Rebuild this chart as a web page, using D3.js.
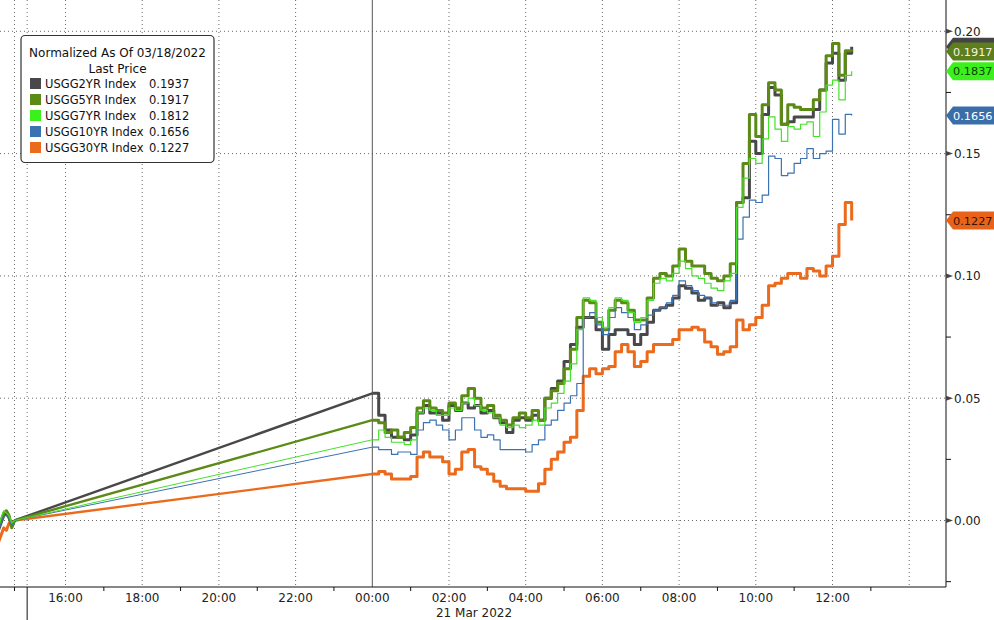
<!DOCTYPE html>
<html><head><meta charset="utf-8">
<script src="https://cdn.jsdelivr.net/npm/d3@7"></script>
<style>body{margin:0;background:#fff}svg{display:block}text{font-family:"DejaVu Sans",sans-serif}</style>
</head><body><svg id="c" width="994" height="620"></svg>
<script>
// ---------------- data ----------------
const seriesNames = ["USGG2YR Index","USGG5YR Index","USGG7YR Index","USGG10YR Index","USGG30YR Index"];
const legendValues = ["0.1937","0.1917","0.1812","0.1656","0.1227"];
const tagValues = ["0.1937","0.1917","0.1837","0.1656","0.1227"];
const seriesColors = ["#48484a","#5b8a16","#44e229","#3a72b2","#ec6a1c"];
const legendColors = ["#48484a","#5b8a16","#3cf01e","#3a72b2","#ec6a1c"];
const tagColors = ["#444446","#5c7e1c","#3cf01e","#3a6ea8","#e8621a"];
const tagTextColors = ["#ffffff","#f4f4e0","#0f3d05","#ffffff","#3a1200"];

// hours relative to Monday 00:00 (Friday session before the gap)
const fridayHours = [-9.75,-9.68,-9.61,-9.54,-9.47,-9.40,-9.33];
// minutes after Monday 00:00
const mondayMinutes = [0,10,20,30,40,50,60,70,80,90,100,110,120,130,140,150,160,170,180,190,
 200,210,220,230,240,250,260,270,280,290,300,310,320,330,340,350,360,370,380,390,
 400,410,420,430,440,450,460,470,480,490,500,510,520,530,540,550,560,570,580,590,
 600,610,620,630,640,650,660,670,680,690,700,710,720,730,740,750];

const usgg2Fri = [-0.004,-0.001,0.002,0.003,0.001,-0.002,0];
const usgg5Fri = [-0.003,0.000,0.003,0.004,0.002,-0.003,0];
const usgg7Fri = [-0.003,0.001,0.004,0.003,0.002,-0.001,0];
const usgg10Fri = [-0.004,-0.001,0.002,0.002,0.001,-0.002,0];
const usgg30Fri = [-0.009,-0.006,-0.003,-0.004,-0.001,-0.002,0];

const usgg2Mon = [0.052,0.043,0.037,0.034,0.034,0.033,0.035,0.044,0.047,0.044,
 0.044,0.041,0.047,0.045,0.048,0.046,0.047,0.044,0.045,0.042,
 0.040,0.036,0.041,0.042,0.041,0.043,0.041,0.050,0.054,0.057,
 0.065,0.072,0.079,0.083,0.083,0.078,0.070,0.076,0.078,0.078,
 0.076,0.072,0.076,0.081,0.086,0.087,0.088,0.091,0.096,0.095,
 0.093,0.090,0.091,0.088,0.089,0.087,0.089,0.130,0.132,0.155,
 0.150,0.166,0.177,0.174,0.162,0.163,0.165,0.165,0.165,0.168,
 0.176,0.187,0.191,0.180,0.191,0.1937];
const usgg5Mon = [0.041,0.040,0.036,0.037,0.034,0.036,0.038,0.046,0.049,0.046,
 0.045,0.044,0.048,0.046,0.051,0.054,0.050,0.046,0.047,0.043,
 0.041,0.039,0.042,0.044,0.042,0.045,0.041,0.050,0.053,0.056,
 0.062,0.070,0.083,0.090,0.089,0.081,0.078,0.086,0.090,0.089,
 0.086,0.082,0.082,0.091,0.099,0.101,0.100,0.104,0.111,0.106,
 0.104,0.104,0.101,0.099,0.098,0.100,0.105,0.130,0.146,0.166,
 0.157,0.170,0.179,0.176,0.162,0.170,0.169,0.168,0.168,0.172,
 0.176,0.190,0.195,0.182,0.192,0.1917];
const usgg7Mon = [0.033,0.037,0.034,0.032,0.032,0.031,0.033,0.044,0.046,0.045,
 0.043,0.043,0.046,0.045,0.048,0.050,0.047,0.045,0.044,0.042,
 0.039,0.038,0.039,0.038,0.039,0.041,0.039,0.046,0.048,0.052,
 0.057,0.064,0.078,0.091,0.090,0.083,0.079,0.087,0.091,0.090,
 0.085,0.081,0.083,0.090,0.097,0.099,0.098,0.101,0.106,0.103,
 0.100,0.099,0.097,0.095,0.094,0.098,0.101,0.128,0.140,0.148,
 0.146,0.156,0.165,0.160,0.155,0.161,0.160,0.162,0.163,0.157,
 0.167,0.178,0.180,0.172,0.182,0.1837];
const usgg10Mon = [0.030,0.029,0.029,0.027,0.028,0.028,0.027,0.037,0.040,0.041,
 0.039,0.037,0.033,0.037,0.042,0.042,0.037,0.034,0.035,0.033,
 0.029,0.029,0.029,0.029,0.028,0.031,0.033,0.039,0.041,0.045,
 0.048,0.051,0.056,0.083,0.085,0.080,0.076,0.083,0.087,0.085,
 0.083,0.078,0.080,0.084,0.086,0.087,0.089,0.092,0.098,0.096,
 0.094,0.092,0.091,0.089,0.088,0.088,0.090,0.115,0.124,0.131,
 0.130,0.133,0.149,0.148,0.141,0.142,0.146,0.148,0.152,0.148,
 0.150,0.151,0.164,0.158,0.166,0.1656];
const usgg30Mon = [0.019,0.020,0.019,0.017,0.017,0.017,0.018,0.026,0.028,0.026,
 0.026,0.024,0.019,0.021,0.028,0.029,0.022,0.021,0.019,0.016,
 0.014,0.013,0.013,0.013,0.012,0.012,0.015,0.021,0.025,0.028,
 0.032,0.034,0.045,0.059,0.062,0.060,0.062,0.063,0.069,0.072,
 0.069,0.063,0.065,0.069,0.072,0.072,0.072,0.074,0.078,0.078,
 0.079,0.078,0.073,0.071,0.068,0.069,0.071,0.082,0.078,0.080,
 0.083,0.088,0.096,0.097,0.099,0.101,0.101,0.099,0.103,0.102,
 0.100,0.104,0.108,0.121,0.130,0.1227];

const yMajorTicks = [0,0.05,0.10,0.15,0.20];
const yMinorTicks = [-0.025,0.025,0.075,0.125,0.175];
const xGridHours = [-8,-6,-4,-2,2,4,6,8,10,12,14];
const xLabelHours = [-8,-6,-4,-2,0,2,4,6,8,10,12];
const xLabels = ["16:00","18:00","20:00","22:00","00:00","02:00","04:00","06:00","08:00","10:00","12:00"];
const xMinorHours = [-9.33,-7,-5,-3,-1,1,3,5,7,9,11,13];
const dayStartHour = -9;      // long separator tick
const dateLabel = "21 Mar 2022";
const legendTitle = ["Normalized As Of 03/18/2022","Last Price"];

const friArr = [usgg2Fri,usgg5Fri,usgg7Fri,usgg10Fri,usgg30Fri];
const monArr = [usgg2Mon,usgg5Mon,usgg7Mon,usgg10Mon,usgg30Mon];

// ---------------- chart ----------------
const svg = d3.select("#c");
const W = 994, H = 620, plotR = 946, plotB = 587;
const x = d3.scaleLinear().domain([0,12]).range([372.3,832.5]);
const y = d3.scaleLinear().domain([0,0.2]).range([520.5,31.3]);

svg.append("defs").append("clipPath").attr("id","clip")
  .append("rect").attr("x",0).attr("y",0).attr("width",plotR).attr("height",plotB);

const dot = "1,3", gridColor = "#6a6a6a";
const grid = svg.append("g");
grid.selectAll("line.h").data(yMajorTicks).join("line")
  .attr("x1",0).attr("x2",plotR).attr("y1",d=>y(d)).attr("y2",d=>y(d))
  .attr("stroke",gridColor).attr("stroke-dasharray",dot);
grid.selectAll("line.v").data(xGridHours.concat([dayStartHour,-9.33])).join("line")
  .attr("x1",d=>x(d)).attr("x2",d=>x(d)).attr("y1",0).attr("y2",plotB)
  .attr("stroke",gridColor).attr("stroke-dasharray",dot);
grid.append("line").attr("x1",x(0)).attr("x2",x(0)).attr("y1",0).attr("y2",plotB)
  .attr("stroke","#555").attr("stroke-width",1);

// series
const lines = svg.append("g").attr("clip-path","url(#clip)");
const widths = [3,3,1.2,1.2,3];
const gapWidths = [2.4,2.4,1,1,2.4];
const drawOrder = [4,0,1,3,2];
drawOrder.forEach(i=>{
  const fri = fridayHours.map((h,k)=>({t:h,v:friArr[i][k]}));
  const mon = mondayMinutes.map((m,k)=>({t:m/60,v:monArr[i][k]}));
  const lin = d3.line().x(d=>x(d.t)).y(d=>y(d.v)).curve(d3.curveLinear);
  const stp = d3.line().x(d=>x(d.t)).y(d=>y(d.v)).curve(d3.curveStepAfter);
  lines.append("path").attr("d",lin(fri)).attr("fill","none")
    .attr("stroke",seriesColors[i]).attr("stroke-width",widths[i]).attr("stroke-linejoin","round");
  lines.append("path").attr("d",lin([fri[fri.length-1],mon[0]])).attr("fill","none")
    .attr("stroke",seriesColors[i]).attr("stroke-width",gapWidths[i]);
  lines.append("path").attr("d",stp(mon)).attr("fill","none")
    .attr("stroke",seriesColors[i]).attr("stroke-width",widths[i]).attr("stroke-linejoin","round");
});

// bottom axis
const ax = svg.append("g");
ax.append("line").attr("x1",0).attr("x2",plotR).attr("y1",plotB).attr("y2",plotB).attr("stroke","#111");
ax.selectAll("line.t").data(xMinorHours).join("line")
  .attr("x1",d=>x(d)).attr("x2",d=>x(d)).attr("y1",plotB).attr("y2",plotB+4).attr("stroke","#111");
ax.append("line").attr("x1",x(dayStartHour)).attr("x2",x(dayStartHour)).attr("y1",plotB).attr("y2",H).attr("stroke","#111");
ax.selectAll("text.xl").data(xLabelHours).join("text")
  .attr("x",d=>x(d)).attr("y",602).attr("text-anchor","middle")
  .attr("font-size",12).attr("fill","#222").text((d,i)=>xLabels[i]);
ax.append("text").attr("x",474).attr("y",617).attr("text-anchor","middle")
  .attr("font-size",12).attr("fill","#222").text(dateLabel);

// right axis
const ra = svg.append("g");
ra.append("line").attr("x1",plotR).attr("x2",plotR).attr("y1",0).attr("y2",plotB).attr("stroke","#111");
ra.selectAll("line.m").data(yMinorTicks).join("line")
  .attr("x1",plotR).attr("x2",plotR+5).attr("y1",d=>y(d)).attr("y2",d=>y(d)).attr("stroke","#111");
ra.selectAll("path.tri").data(yMajorTicks).join("path")
  .attr("d",d=>`M${plotR},${y(d)-2.5}L${plotR+7},${y(d)}L${plotR},${y(d)+2.5}Z`).attr("fill","#444");
ra.selectAll("text.yl").data(yMajorTicks).join("text")
  .attr("x",plotR+8).attr("y",d=>y(d)+4.5).attr("font-size",12).attr("fill","#222")
  .text(d=>d3.format(".2f")(d));

// value tags (the 2YR tag sits under the 5YR tag; its text is hidden in the reference)
const tags = svg.append("g");
[0,1,2,3,4].forEach(i=>{
  const cy = y(+tagValues[i]);
  tags.append("path")
    .attr("d",`M${plotR},${cy}L${plotR+7},${cy-9}L${W},${cy-9}L${W},${cy+9}L${plotR+7},${cy+9}Z`)
    .attr("fill",tagColors[i]);
  if (i !== 0) {
    tags.append("text").attr("x",plotR+7).attr("y",cy+4.3).attr("font-size",11.3)
      .attr("fill",tagTextColors[i]).text(tagValues[i]);
  }
});

// legend
const lg = svg.append("g");
lg.append("rect").attr("x",21).attr("y",35.5).attr("width",193).attr("height",127).attr("rx",4)
  .attr("fill","#fff").attr("stroke","#333").attr("stroke-width",1.2);
lg.selectAll("text.t").data(legendTitle).join("text")
  .attr("x",117.5).attr("y",(d,i)=>57+i*16).attr("text-anchor","middle")
  .attr("font-size",12).attr("fill","#111").text(d=>d);
seriesNames.forEach((n,i)=>{
  const cy = 83.5+i*16;
  lg.append("rect").attr("x",30).attr("y",cy-5.5).attr("width",11).attr("height",11).attr("fill",legendColors[i]);
  lg.append("text").attr("x",45).attr("y",cy+4.5).attr("font-size",11.5).attr("fill","#111").text(n);
  lg.append("text").attr("x",149).attr("y",cy+4.5).attr("font-size",11.5).attr("fill","#111").text(legendValues[i]);
});
</script></body></html>
